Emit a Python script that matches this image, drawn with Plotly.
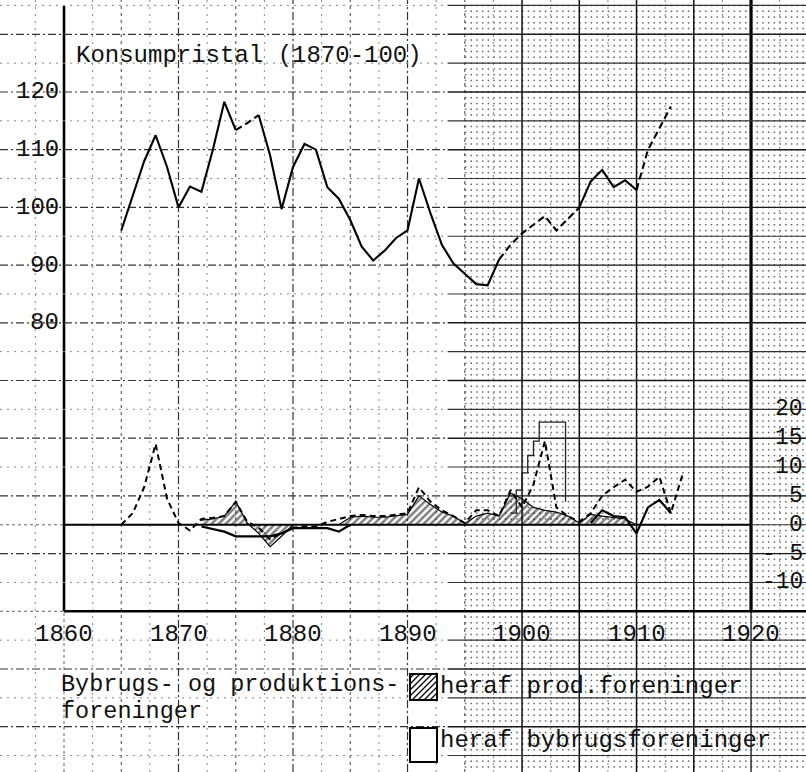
import plotly.graph_objects as go

# ---------------- data ----------------
cpi_years = list(range(1865, 1914))
cpi_values = [96, 102, 108, 112.5, 107, 100, 103.6, 102.7, 110, 118.3,
              113.4, 114.6, 116, 109, 99.7, 107, 111, 110, 103.5, 101.5,
              97.8, 93.2, 90.8, 92.5, 94.7, 96, 105, 99, 93.5, 90.3,
              88.5, 86.7, 86.5, 91, 93.5, 95.5, 97, 98.5, 96, 98,
              100, 104.5, 106.5, 103.5, 104.7, 103, 110, 113.7, 117.5]
cpi_dashed_spans = [(1875, 1877), (1898, 1905), (1910, 1913)]

coop_years = list(range(1865, 1915))
coop_total = [0, 2, 6.5, 14, 4.5, 0.3, -1, 1, 1.2, 1.5,
              4, 0.5, -0.5, -2.5, -1.5, -0.5, -0.3, -0.3, 0.5, 1,
              1.5, 1.7, 1.5, 1.5, 1.7, 2, 6.5, 4, 2.5, 1.5,
              0.3, 2.5, 2.5, 1.5, 6, 3, 7, 14.5, 3, 1.5,
              0.5, 2, 5, 6.5, 7.8, 5.7, 6.6, 8.3, 2, 8.6]
coop_prod = [None, None, None, None, None, None, None, 0.8, 1, 1.5,
             4, 0.3, -1.5, -3.8, -2, 0, None, None, None, 0,
             1.3, 1.5, 1.3, 1.3, 1.5, 1.8, 5, 3.5, 2.2, 1.5,
             0.2, 1.5, 2, 1.5, 5.5, 4.5, 3, 2.5, 2.2, 1.5,
             0.3, 1.8, 1.5, 1.2, 1, 0, None, None, None, None]
coop_bybrug = [None, None, None, None, None, None, None, -0.3, -0.8, -1.2,
               -2, -2, -2, -2, -1.5, -0.6, -0.6, -0.6, -0.6, -1.2,
               0, None, None, None, None, None, None, None, None, None,
               None, None, None, None, None, None, None, None, None, None,
               None, 0.3, 2.5, 1.5, 1.3, -1.5, 3, 4.3, 2, None]
bybrug_peak_years = [1899, 1899.5, 1900, 1900.5, 1901, 1901.5, 1903.8, 1903.8]
bybrug_peak_values = [2, 6, 9, 12, 14.5, 17.8, 17.8, 4]

x_tick_years = [1860, 1870, 1880, 1890, 1900, 1910, 1920]
x_tick_labels = ["1860", "1870", "1880", "1890", "1900", "1910", "1920"]
left_tick_values = [120, 110, 100, 90, 80]
right_tick_values = [20, 15, 10, 5, 0, -5, -10]
right_tick_labels = ["20", "15", "10", "5", "0", "- 5", "-10"]

# ---------------- layout constants ----------------
W, H = 806, 772
X0, X1 = 1854.41, 1924.80
Y0, Y1 = 2.15, 135.94
OFF = 45            # right-axis 0 sits at left-axis 45
FONT = "Liberation Mono"
INK = "#111111"


def px(x):
    return x / W


def py(y):
    return 1 - y / H


fig = go.Figure()

# hatched area: heraf prod.foreninger
fig.add_trace(go.Scatter(
    x=coop_years, y=coop_prod, yaxis="y2", mode="lines",
    line=dict(color="black", width=1.2), fill="tozeroy",
    fillcolor="rgba(0,0,0,0)",
    fillpattern=dict(shape="/", fgcolor="black", bgcolor="rgba(0,0,0,0)",
                     size=5, solidity=0.5, fillmode="overlay"),
    connectgaps=False, hoverinfo="skip", showlegend=False))

# bybrugsforeninger lines
fig.add_trace(go.Scatter(
    x=coop_years, y=coop_bybrug, yaxis="y2", mode="lines",
    line=dict(color="black", width=2.2), connectgaps=False,
    showlegend=False))
fig.add_trace(go.Scatter(
    x=bybrug_peak_years, y=bybrug_peak_values, yaxis="y2", mode="lines",
    line=dict(color="#222", width=1.3, shape="hv"), showlegend=False))

# total (dashed)
fig.add_trace(go.Scatter(
    x=coop_years, y=coop_total, yaxis="y2", mode="lines",
    line=dict(color="black", width=2, dash="6px,4px"), showlegend=False))

# Konsumpristal
def in_span(yr, inclusive):
    for a, b in cpi_dashed_spans:
        if (a <= yr <= b) if inclusive else (a < yr < b):
            return True
    return False

cpi_solid = [None if in_span(y, False) else v for y, v in zip(cpi_years, cpi_values)]
cpi_dash = [v if in_span(y, True) else None for y, v in zip(cpi_years, cpi_values)]
fig.add_trace(go.Scatter(x=cpi_years, y=cpi_solid, mode="lines",
                         line=dict(color="black", width=2.1),
                         connectgaps=False, showlegend=False))
fig.add_trace(go.Scatter(x=cpi_years, y=cpi_dash, mode="lines",
                         line=dict(color="black", width=2.1, dash="7px,4px"),
                         connectgaps=False, showlegend=False))

# ---------------- graph paper ----------------
shapes = []


def seg(x0, y0, x1, y1, color, width, dash="solid", xref="x", yref="y"):
    shapes.append(dict(type="line", x0=x0, y0=y0, x1=x1, y1=y1, xref=xref,
                       yref=yref, layer="below",
                       line=dict(color=color, width=width, dash=dash)))

# dense dot texture of the graph paper (right part)
v = 3
while v <= 135:
    seg(1895, v, X1, v, "#666", 1.5, "1.5px,4.22px")
    v += 1

# vertical grid every 2.5 years
k = 0
while True:
    yr = 1857.5 + 2.5 * k
    k += 1
    if yr > 1923:
        break
    if yr == 1860:
        seg(yr, 30, yr, 134.9, "black", 2.6)
        seg(yr, Y0, yr, 30, "#666", 1, "dot")
    elif yr == 1920:
        seg(yr, 30, yr, Y1, "black", 3.2)
        seg(yr, Y0, yr, 30, "#222", 1.4)
    elif yr >= 1900 and yr % 5 == 0:
        seg(yr, Y0, yr, Y1, "#111", 1.5)
    elif yr % 10 == 0:
        seg(yr, Y0, yr, Y1, "#333", 1.2, "8px,3px,2px,3px")
    elif yr % 5 == 0:
        seg(yr, Y0, yr, Y1, "#555", 1.1, "3px,4px")
    else:
        seg(yr, Y0, yr, Y1, "#888", 1, "2px,5px")

# horizontal grid every 5 units (left scale)
SPLIT = 1893.5
for v in range(5, 136, 5):
    if v == 30:
        seg(X0, v, 1860, v, "#666", 1, "dot")
        seg(1860, v, X1, v, "black", 2.6)
    elif v == OFF:
        seg(X0, v, 1860, v, "#666", 1, "dot")
        seg(1860, v, 1920, v, "black", 2.2)
        seg(1920, v, X1, v, "#333", 1.2)
    elif v % 10 == 0:
        seg(X0, v, SPLIT, v, "#333", 1.2, "8px,3px,2px,3px")
        seg(SPLIT, v, X1, v, "#1a1a1a", 1.4)
    else:
        seg(X0, v, SPLIT, v, "#888", 1, "2px,5px")
        seg(SPLIT, v, X1, v, "#333", 1.1)

# legend swatches
bx0, bx1, by0, by1 = 410, 437, 674, 700
shapes.append(dict(type="rect", xref="paper", yref="paper",
                   x0=px(bx0), x1=px(bx1), y0=py(by1), y1=py(by0),
                   line=dict(color="black", width=2), fillcolor="white"))
c = bx0 + by0 + 4
while c < bx1 + by1:
    xa = max(bx0, c - by1)
    xb = min(bx1, c - by0)
    if xb - xa > 1:
        seg(px(xa), py(c - xa), px(xb), py(c - xb), "black", 1.3,
            xref="paper", yref="paper")
        shapes[-1]["layer"] = "above"
    c += 6
shapes.append(dict(type="rect", xref="paper", yref="paper",
                   x0=px(410), x1=px(437), y0=py(762), y1=py(728),
                   line=dict(color="black", width=2), fillcolor="white"))

# ---------------- text ----------------
ann = []


def text(t, x, y, xanchor="left", xref="paper", yref="paper", size=24):
    ann.append(dict(text=t, x=x, y=y, xref=xref, yref=yref, xanchor=xanchor,
                    yanchor="middle", showarrow=False, borderpad=0,
                    font=dict(family=FONT, size=size, color=INK)))

text("Konsumpristal (1870-100)", px(75), py(55))
for v in left_tick_values:
    text(str(v), px(60), v, xanchor="right", yref="y")
for v, lab in zip(right_tick_values, right_tick_labels):
    text(lab, px(804), v, xanchor="right", yref="y2", size=23)
for yr, lab in zip(x_tick_years, x_tick_labels):
    text(lab, yr, py(634), xanchor="center", xref="x")
text("Bybrugs- og produktions-", px(60), py(684), size=23.5)
text("foreninger", px(60), py(711), size=23.5)
text("heraf prod.foreninger", px(439), py(686))
text("heraf bybrugsforeninger", px(439), py(740))

fig.update_layout(
    width=W, height=H,
    margin=dict(l=0, r=0, t=0, b=0, pad=0),
    paper_bgcolor="white", plot_bgcolor="white",
    xaxis=dict(range=[X0, X1], visible=False),
    yaxis=dict(range=[Y0, Y1], visible=False),
    yaxis2=dict(range=[Y0 - OFF, Y1 - OFF], overlaying="y", visible=False),
    shapes=shapes, annotations=ann, showlegend=False,
)

fig.write_html(
    "out.html",
    config={"displayModeBar": False},
    post_script="document.body.style.margin='0';"
                "document.body.style.overflow='hidden';",
)
